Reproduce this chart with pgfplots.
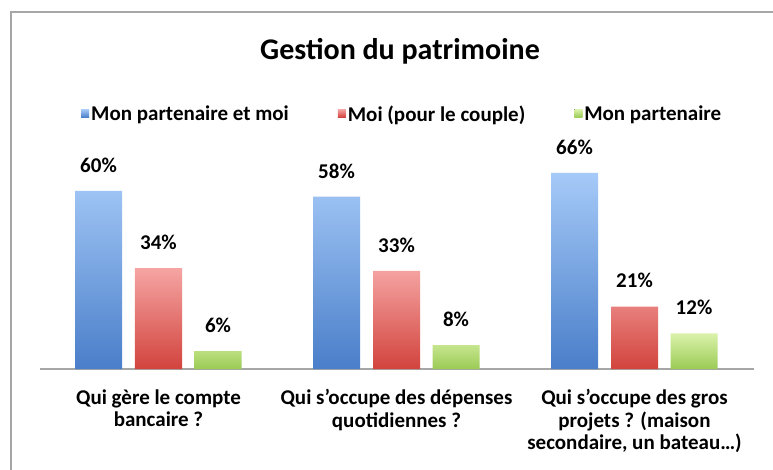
\documentclass[border=0pt]{standalone}
\usepackage{fontspec}
\setmainfont{Carlito}
\usepackage{pgfplots}
\pgfplotsset{compat=1.18}
\definecolor{btop}{HTML}{A6CAF8}\definecolor{bbot}{HTML}{4A7EC9}
\definecolor{rtop}{HTML}{F5A5A3}\definecolor{rbot}{HTML}{D2433D}
\definecolor{gtop}{HTML}{DAF2AA}\definecolor{gbot}{HTML}{9BCB55}
\begin{document}
\begin{tikzpicture}[x=1pt,y=1pt]
\useasboundingbox (0,0) rectangle (773,469);
\clip (0,0) rectangle (773,469);
\fill[white] (0,0) rectangle (773,469);
\draw[gray!70, line width=1.6pt] (11,-20) -- (11,457) -- (790,457);
\node[font=\bfseries\fontsize{30}{36}\selectfont] at (400,418) {Gestion du patrimoine};
\begin{axis}[
  at={(39.5pt,100pt)}, anchor=south west,
  scale only axis, width=714pt, height=207.9pt,
  xmin=-0.5, xmax=2.5, ymin=0, ymax=70,
  /pgf/number format/assume math mode=true,
  axis x line=bottom, axis y line=none,
  axis line style={-, draw=gray!70, line width=1.5pt},
  xtick={0,1,2}, xtick style={draw=none},
  xticklabels={{Qui gère le compte\\bancaire ?},{Qui s’occupe des dépenses\\quotidiennes ?},{Qui s’occupe des gros\\projets ? (maison\\secondaire, un bateau…)}},
  xticklabel style={align=center, font=\bfseries\fontsize{21}{22.5}\selectfont, yshift=-12.5pt},
  ybar, bar width=0.1975,
  nodes near coords={\pgfmathprintnumber{\pgfplotspointmeta}\%},
  every node near coord/.append style={font=\bfseries\fontsize{21}{24}\selectfont, text=black, anchor=south, yshift=15pt},
  legend columns=3,
  legend style={at={(0.508,1.225)}, anchor=center, draw=none, fill=none, font=\bfseries\fontsize{21}{24}\selectfont, /tikz/every even column/.append style={column sep=47pt}},
  legend image code/.code={\fill[#1] (0pt,-3pt) rectangle (8pt,5pt);},
]
\addplot[bar shift=-0.252, draw=none, top color=btop, bottom color=bbot] coordinates {(0,60) (1,58) (2,66)};
\addplot[bar shift=0, draw=none, top color=rtop, bottom color=rbot] coordinates {(0,34) (1,33) (2,21)};
\addplot[bar shift=0.25, draw=none, top color=gtop, bottom color=gbot] coordinates {(0,6) (1,8) (2,12)};
\legend{Mon partenaire et moi, Moi (pour le couple), Mon partenaire}
\end{axis}
\end{tikzpicture}
\end{document}
